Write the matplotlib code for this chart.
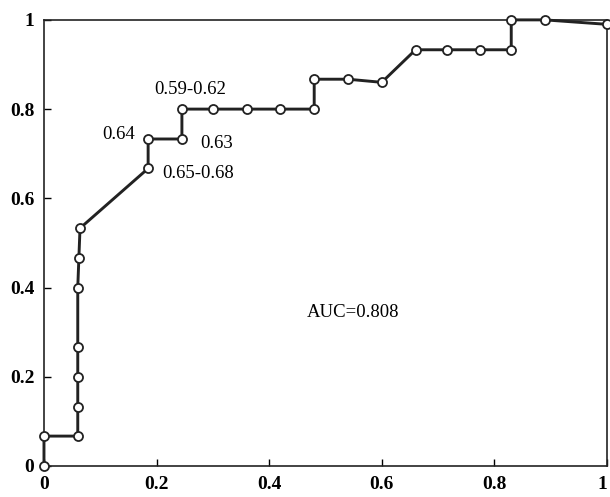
import matplotlib.pyplot as plt

# ROC points (1 - specificity, sensitivity)
fpr = [0, 0, 0.06, 0.06, 0.06, 0.06, 0.06, 0.062, 0.064,
       0.185, 0.185, 0.245, 0.245, 0.30, 0.36, 0.42, 0.48,
       0.48, 0.54, 0.60, 0.66, 0.715, 0.775, 0.83, 0.83, 0.89, 1.0]
tpr = [0, 0.067, 0.067, 0.133, 0.2, 0.267, 0.4, 0.467, 0.533,
       0.667, 0.733, 0.733, 0.80, 0.80, 0.80, 0.80, 0.80,
       0.867, 0.867, 0.86, 0.933, 0.933, 0.933, 0.933, 1.0, 1.0, 0.99]

# cut-off labels
cut_labels = ["0.59-0.62", "0.64", "0.63", "0.65-0.68"]
ticks = [0, 0.2, 0.4, 0.6, 0.8, 1]
tick_labels = ["0", "0.2", "0.4", "0.6", "0.8", "1"]
auc_text = "AUC=0.808"

plt.rcParams['font.family'] = ['Liberation Serif', 'DejaVu Serif']

fig = plt.figure(figsize=(6.1, 4.97), dpi=100)
ax = fig.add_axes([0.0721, 0.0624, 0.9229, 0.8976])

ax.plot(fpr, tpr, color='#222222', linewidth=2.1, marker='o', markersize=6.5,
        markerfacecolor='white', markeredgecolor='#222222', markeredgewidth=1.3,
        clip_on=False, zorder=3)

ax.set_xlim(0, 1)
ax.set_ylim(0, 1)
ax.set_xticks(ticks)
ax.set_xticklabels(tick_labels)
ax.set_yticks(ticks)
ax.set_yticklabels(tick_labels)
ax.tick_params(direction='in', length=5, width=1, labelsize=14, pad=7)
for lab in ax.get_xticklabels() + ax.get_yticklabels():
    lab.set_fontweight('bold')
# keep the last x label inside the figure
ax.get_xticklabels()[-1].set_horizontalalignment('right')
for sp in ax.spines.values():
    sp.set_linewidth(1.2)
    sp.set_color('#222222')

fs = 13.5
ax.text(0.26, 0.845, cut_labels[0], fontsize=fs, ha='center', va='center')
ax.text(0.1625, 0.742, cut_labels[1], fontsize=fs, ha='right', va='center')
ax.text(0.277, 0.724, cut_labels[2], fontsize=fs, ha='left', va='center')
ax.text(0.21, 0.656, cut_labels[3], fontsize=fs, ha='left', va='center')
ax.text(0.466, 0.344, auc_text, fontsize=fs, ha='left', va='center')

fig.savefig('out.png', dpi=100)
